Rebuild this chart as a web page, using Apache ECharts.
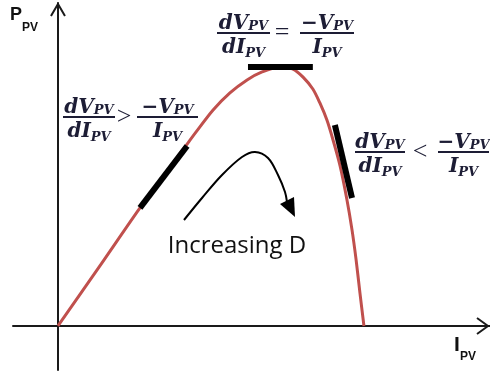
<!DOCTYPE html>
<html>
<head>
<meta charset="utf-8">
<script src="https://cdn.jsdelivr.net/npm/echarts@6/dist/echarts.min.js"></script>
<style>
  html, body { margin: 0; padding: 0; background: #fff; }
  #chart { width: 490px; height: 375px; }
</style>
</head>
<body>
<div id="chart"></div>
<script>
// P-I characteristic of a PV source (normalised units)
const currentI = [0, 1.37, 2.68, 3.50, 4.15, 4.54, 5.07, 5.62, 6.18, 6.67, 7.25, 7.68, 8.01, 8.33, 8.56, 8.79, 8.99, 9.22, 9.44, 9.61, 9.74, 9.87, 10];
const powerP   = [0, 23.2, 45.6, 58.7, 69.1, 75.3, 83.4, 90.0, 95.0, 98.1, 100, 99.2, 96.1, 91.5, 86.1, 79.5, 71.8, 61.8, 49.0, 37.1, 25.9, 12.7, 0];

// slope segments: left of MPP, at MPP, right of MPP
const tangentLow  = [[2.68, 45.6], [4.22, 69.5]];
const tangentPeak = [[6.21, 100], [8.33, 100]];
const tangentHigh = [[9.05, 77.6], [9.61, 49.4]];

// axis extents
const xRange = [-1.47, 14.12];
const yRange = [-17.0, 124.7];

const chart = echarts.init(document.getElementById('chart'));

const mc = document.createElement('canvas').getContext('2d');
function tw(text, font) { mc.font = font; return mc.measureText(text).width; }

const INK = '#1d1d35';
const MS = 20, SS = 13;
const MAIN = 'italic bold ' + MS + 'px "DejaVu Serif"';
const SUB = 'italic bold ' + SS + 'px "DejaVu Serif"';
const OP = '26px "Liberation Serif"';

function txt(text, x, y, font, fill, align) {
  return {
    type: 'text',
    style: {
      text: text, x: x, y: y, font: font, fill: fill,
      textAlign: align || 'left', align: align || 'left',
      textVerticalAlign: 'middle', verticalAlign: 'middle'
    }
  };
}
// main symbol with subscript, centred at cx, main baseline yb, sub baseline ys
function term(main, sub, cx, yb, ys) {
  const wm = tw(main, MAIN), ws = tw(sub, SUB);
  const x0 = cx - (wm + ws) / 2;
  return [
    txt(main, x0, yb - MS * 0.3, MAIN, INK),
    txt(sub, x0 + wm, ys - SS * 0.3, SUB, INK)
  ];
}
function fraction(num, den, x1, x2, yBar) {
  const cx = (x1 + x2) / 2;
  return [
    { type: 'rect', shape: { x: x1, y: yBar - 1, width: x2 - x1, height: 2 }, style: { fill: INK } }
  ].concat(term(num[0], num[1], cx, yBar - 3, yBar - 2))
   .concat(term(den[0], den[1], cx, yBar + 21, yBar + 25));
}
function formula(op, a1, a2, opX, b1, b2, yBar) {
  return fraction(['dV', 'PV'], ['dI', 'PV'], a1, a2, yBar)
    .concat([txt(op, opX, yBar, OP, INK, 'center')])
    .concat(fraction(['\u2212V', 'PV'], ['I', 'PV'], b1, b2, yBar));
}

const graphics = []
  .concat(formula('=', 217, 270, 282, 300, 354, 33))
  .concat(formula('>', 63, 115, 124, 137, 198, 117))
  .concat(formula('<', 355, 405, 420, 438, 489, 152));

// axis titles
graphics.push(txt('P', 10, 15, 'bold 18px "Liberation Sans"', '#111'));
graphics.push(txt('PV', 22, 28, 'bold 12px "Liberation Sans"', '#111'));
graphics.push(txt('I', 454, 345, 'bold 21px "Liberation Sans"', '#111'));
graphics.push(txt('PV', 460, 357, 'bold 12px "Liberation Sans"', '#111'));

// direction note
graphics.push(txt('Increasing D', 237, 246, '24px "Open Sans"', '#111', 'center'));
// curved arrow
const arrowPts = [[184, 220], [202, 198], [222, 175], [242, 157], [255, 152], [268, 158], [278, 175], [285, 192], [287, 202]];
graphics.push({
  type: 'polyline',
  shape: { points: arrowPts, smooth: 0.35 },
  style: { stroke: '#000', lineWidth: 2, fill: null }
});
graphics.push({
  type: 'polygon',
  shape: { points: [[280, 204], [294, 197], [295, 217]] },
  style: { fill: '#000' }
});

function axisHeads(params, api) {
  const top = api.coord([0, yRange[1]]);
  const right = api.coord([xRange[1], 0]);
  const st = { stroke: '#1a1a1a', lineWidth: 2, fill: null };
  return {
    type: 'group',
    children: [
      { type: 'polyline', shape: { points: [[top[0] - 7, top[1] + 13], [top[0], top[1] + 1], [top[0] + 7, top[1] + 13]] }, style: st },
      { type: 'polyline', shape: { points: [[right[0] - 13, right[1] - 8], [right[0] - 2, right[1]], [right[0] - 13, right[1] + 8]] }, style: st }
    ]
  };
}

const seg = (pts) => ({
  type: 'line',
  data: pts,
  symbol: 'none',
  silent: true,
  z: 4,
  lineStyle: { color: '#000', width: 6, cap: 'butt' }
});

chart.setOption({
  animation: false,
  grid: { left: 13, right: 0, top: 3, bottom: 5 },
  xAxis: {
    type: 'value', min: xRange[0], max: xRange[1],
    axisLine: { onZero: true, lineStyle: { color: '#1a1a1a', width: 2 } },
    axisTick: { show: false }, axisLabel: { show: false }, splitLine: { show: false }
  },
  yAxis: {
    type: 'value', min: yRange[0], max: yRange[1],
    axisLine: { onZero: true, lineStyle: { color: '#1a1a1a', width: 2 } },
    axisTick: { show: false }, axisLabel: { show: false }, splitLine: { show: false }
  },
  series: [
    {
      type: 'line',
      data: currentI.map((v, i) => [v, powerP[i]]),
      smooth: 0.3,
      symbol: 'none',
      z: 3,
      lineStyle: { color: '#c0504d', width: 3 }
    },
    seg(tangentLow),
    seg(tangentPeak),
    seg(tangentHigh),
    {
      type: 'custom',
      data: [[0, 0]],
      renderItem: axisHeads,
      silent: true,
      z: 5
    }
  ],
  graphic: graphics
});
</script>
</body>
</html>
